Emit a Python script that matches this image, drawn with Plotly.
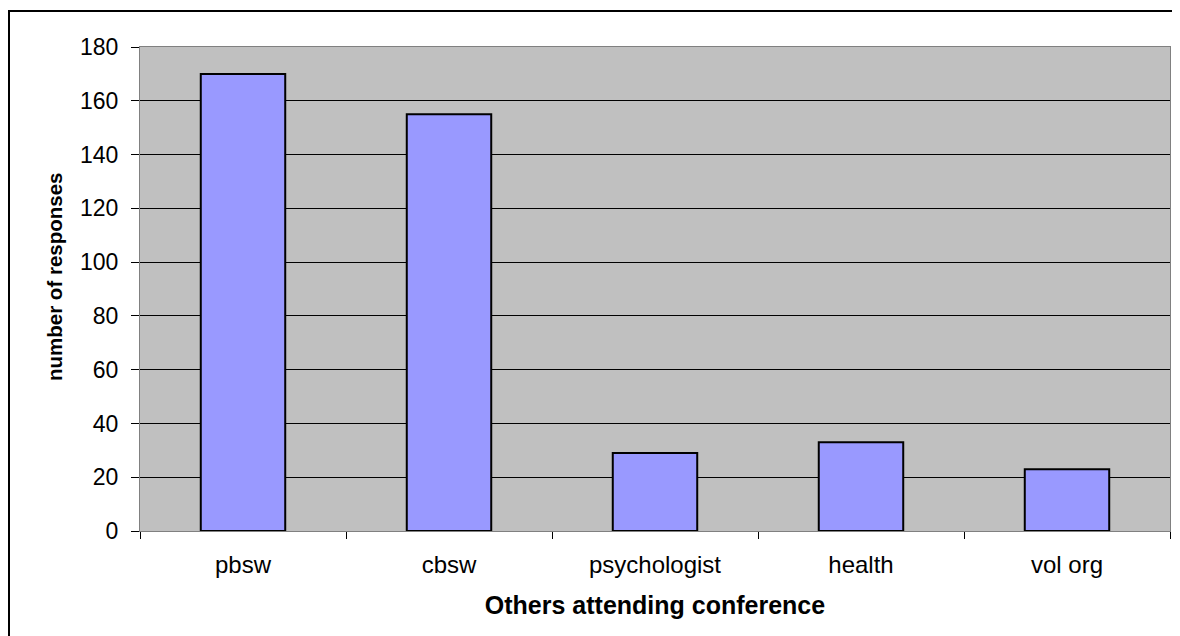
import plotly.graph_objects as go

categories = ["pbsw", "cbsw", "psychologist", "health", "vol org"]
values = [170, 155, 29, 33, 23]
y_ticks = [0, 20, 40, 60, 80, 100, 120, 140, 160, 180]

# page body has an 8px margin, so figure coords = screenshot coords - 8
W, H = 1172, 628
L, R, T, B = 132, 10, 39, 105
pw, ph = W - L - R, H - T - B

def px_x(p):
    return (p - L) / pw

def px_y(p):
    return (H - B - p) / ph

fig = go.Figure(go.Bar(
    x=categories, y=values,
    marker=dict(color="#9999FF", line=dict(color="#000000", width=2)),
    width=0.41,
))

font = "Liberation Sans, Arial, sans-serif"

fig.update_layout(
    width=W, height=H,
    margin=dict(l=L, r=R, t=T, b=B),
    paper_bgcolor="white",
    plot_bgcolor="#C0C0C0",
    showlegend=False,
    font=dict(family=font, color="black"),
    xaxis=dict(
        type="category",
        tickfont=dict(size=24, family=font, color="black"),
        ticks="outside", ticklen=7, tickcolor="black", tickson="boundaries",
        ticklabelstandoff=12,
        showline=True, linecolor="#808080", linewidth=1, mirror=True,
        showgrid=False,
        title=dict(text="<b>Others attending conference</b>",
                   font=dict(size=25, family=font, color="black"), standoff=19),
    ),
    yaxis=dict(
        range=[0, 180], tickvals=y_ticks,
        tickfont=dict(size=23, family=font, color="black"),
        ticks="outside", ticklen=8, tickcolor="black",
        ticklabelstandoff=8,
        showline=True, linecolor="#808080", linewidth=1, mirror=True,
        showgrid=True, gridcolor="black", gridwidth=1,
        zeroline=False,
    ),
    annotations=[dict(text="<b>number of responses</b>", textangle=-90,
                      xref="paper", yref="paper", x=px_x(46), y=px_y(269),
                      xanchor="center", yanchor="middle", showarrow=False,
                      font=dict(size=20.5, family=font, color="black"))],
    shapes=[dict(type="rect", xref="paper", yref="paper",
                 x0=px_x(1), x1=px_x(1190), y0=px_y(646), y1=px_y(3),
                 line=dict(color="black", width=2), fillcolor="rgba(0,0,0,0)",
                 layer="below")],
)

fig.write_html("out.html")
